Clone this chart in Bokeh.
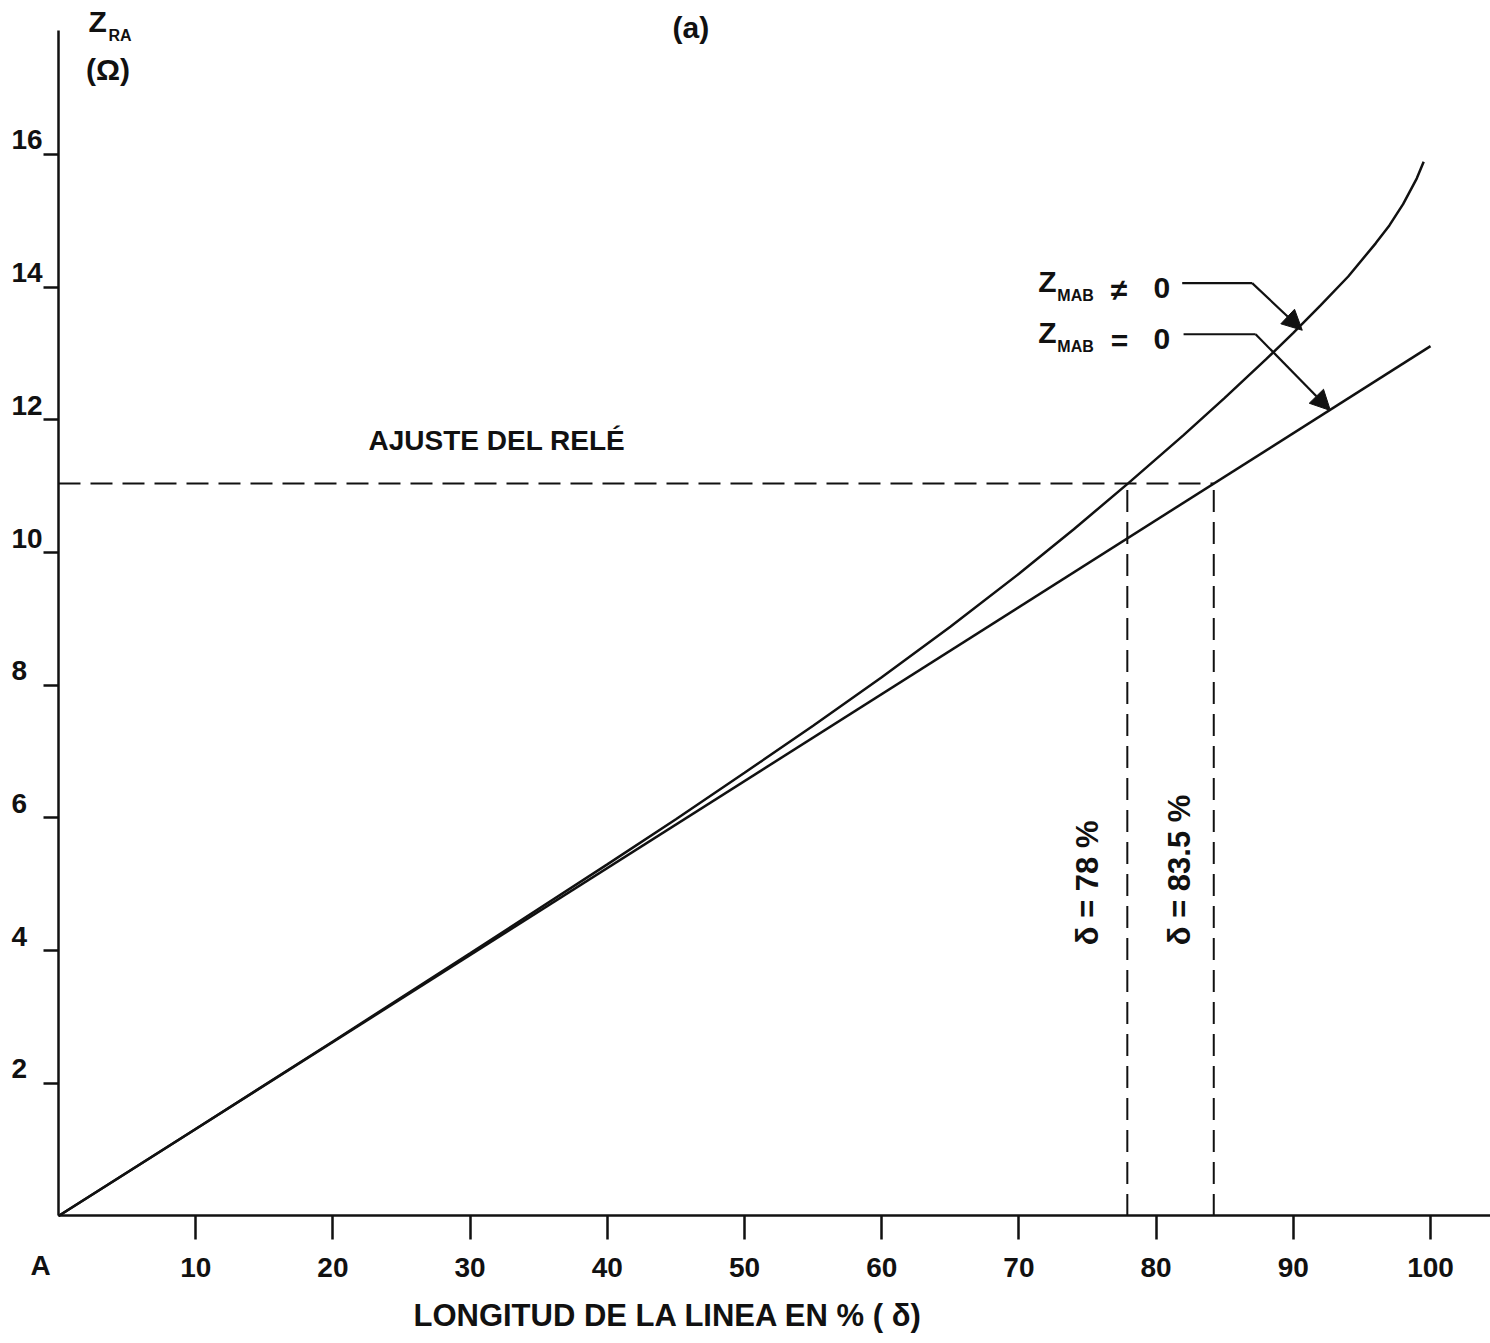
from bokeh.plotting import figure
from bokeh.models import (Range1d, FixedTicker, Label, LabelSet, ColumnDataSource,
                          Arrow, NormalHead, LinearAxis)
from bokeh.core.properties import value
from bokeh.embed import file_html
from bokeh.resources import INLINE
import math

# ---------------- data ----------------
delta_ticks = [10, 20, 30, 40, 50, 60, 70, 80, 90, 100]
z_ticks = [2, 4, 6, 8, 10, 12, 14, 16]

# Z_MAB = 0  -> straight line
delta_line = [0, 100]
z_line = [0, 13.11]

# Z_MAB != 0 -> curve
delta_curve = [0, 10, 20, 30, 40, 45, 50, 55, 60, 65, 70, 74, 78, 82, 85, 88,
               90, 92, 94, 96, 97, 98, 99, 99.5]
z_curve = [0, 1.31, 2.63, 3.96, 5.30, 5.98, 6.68, 7.39, 8.12, 8.88, 9.68,
           10.35, 11.05, 11.77, 12.33, 12.91, 13.31, 13.73, 14.16, 14.66,
           14.93, 15.25, 15.64, 15.89]

relay_setting = 11.04            # "AJUSTE DEL RELÉ"
reach_delta = [77.9, 84.2]       # where each curve meets the setting
reach_labels = ["δ = 78 %", "δ = 83.5 %"]

FONT = "Liberation Sans"
BLACK = "#111111"

X_END = 104.37
Y_END = 17.87

p = figure(width=1490, height=1343,
           x_range=Range1d(-4.227, X_END), y_range=Range1d(-1.922, 18.32),
           x_axis_type=None, y_axis_type=None,
           output_backend="svg", toolbar_location=None,
           min_border_left=0, min_border_right=0,
           min_border_top=0, min_border_bottom=0)
p.outline_line_color = None
p.grid.visible = False
p.background_fill_color = "white"
p.border_fill_color = "white"

# x axis
xa = LinearAxis(fixed_location=0, bounds=(0, X_END))
xa.ticker = FixedTicker(ticks=delta_ticks)
xa.major_tick_out = 24
xa.major_tick_in = 0
xa.minor_tick_out = 0
xa.minor_tick_in = 0
xa.axis_line_width = 2.5
xa.axis_line_color = BLACK
xa.major_tick_line_width = 2.5
xa.major_tick_line_color = BLACK
xa.major_label_text_font = FONT
xa.major_label_text_font_size = "28px"
xa.major_label_text_font_style = "bold"
xa.major_label_text_color = BLACK
xa.major_label_standoff = 18
p.add_layout(xa, "below")

# y axis
ya = LinearAxis(fixed_location=0, bounds=(0, Y_END))
ya.ticker = FixedTicker(ticks=z_ticks)
ya.major_tick_out = 15
ya.major_tick_in = 0
ya.minor_tick_out = 0
ya.minor_tick_in = 0
ya.axis_line_width = 2.5
ya.axis_line_color = BLACK
ya.major_tick_line_width = 2.5
ya.major_tick_line_color = BLACK
ya.major_label_overrides = {t: "" for t in z_ticks}
ya.major_label_standoff = 0
p.add_layout(ya, "left")

ysrc = ColumnDataSource(dict(x=[0] * len(z_ticks), y=z_ticks,
                             t=[str(t) for t in z_ticks]))
p.add_layout(LabelSet(x="x", y="y", text="t", source=ysrc, x_offset=-47, y_offset=5,
                      text_font=value(FONT), text_font_size=value("28px"),
                      text_font_style="bold", text_color=BLACK,
                      text_align="left", text_baseline="alphabetic"))

# curves
p.line(delta_line, z_line, line_color=BLACK, line_width=2.5)
p.line(delta_curve, z_curve, line_color=BLACK, line_width=2.5)

# relay setting dashed lines
p.line([0, reach_delta[1]], [relay_setting, relay_setting], line_color=BLACK,
       line_width=2, line_dash="22 10")
for d in reach_delta:
    p.line([d, d], [0, relay_setting], line_color=BLACK, line_width=2,
           line_dash="22 10")


def lab(text, x, y, size="28px", **kw):
    p.add_layout(Label(text=text, x=x, y=y, text_font=FONT, text_font_size=size,
                       text_font_style="bold", text_color=BLACK, **kw))


# axis titles
lab("Z", 2.19, 17.76, "30px")
lab("RA", 3.64, 17.67, "16px")
lab("(Ω)", 2.0, 17.03, "30px")
lab("(a)", 44.75, 17.66, "30px")
lab("A", -2.04, -0.98, "28px")
lab("LONGITUD DE LA LINEA EN % ( δ)", 25.87, -1.77, "31px")
lab("AJUSTE DEL RELÉ", 22.6, 11.46, "28px")

# reach labels (vertical)
for xpos, t in zip([75.0, 81.7], reach_labels):
    lab(t, xpos, 4.08, "31px", angle=math.pi / 2, text_align="left",
        text_baseline="middle")

# curve identification labels with arrows
lab("Z", 71.4, 13.84, "30px")
lab("MAB", 72.8, 13.75, "16px")
lab("≠", 76.7, 13.72, "30px")
lab("0", 79.8, 13.84, "30px")
lab("Z", 71.4, 13.07, "30px")
lab("MAB", 72.8, 12.97, "16px")
lab("=", 76.7, 12.95, "30px")
lab("0", 79.8, 13.07, "30px")

p.line([81.9, 87.0], [14.06, 14.06], line_color=BLACK, line_width=2.2)
p.add_layout(Arrow(end=NormalHead(size=20, fill_color=BLACK, line_color=BLACK),
                   x_start=87.0, y_start=14.06, x_end=90.65, y_end=13.35,
                   line_color=BLACK, line_width=2.2))
p.line([82.0, 87.25], [13.29, 13.29], line_color=BLACK, line_width=2.2)
p.add_layout(Arrow(end=NormalHead(size=20, fill_color=BLACK, line_color=BLACK),
                   x_start=87.25, y_start=13.29, x_end=92.7, y_end=12.14,
                   line_color=BLACK, line_width=2.2))

open("out.html", "w").write(file_html(p, INLINE))
